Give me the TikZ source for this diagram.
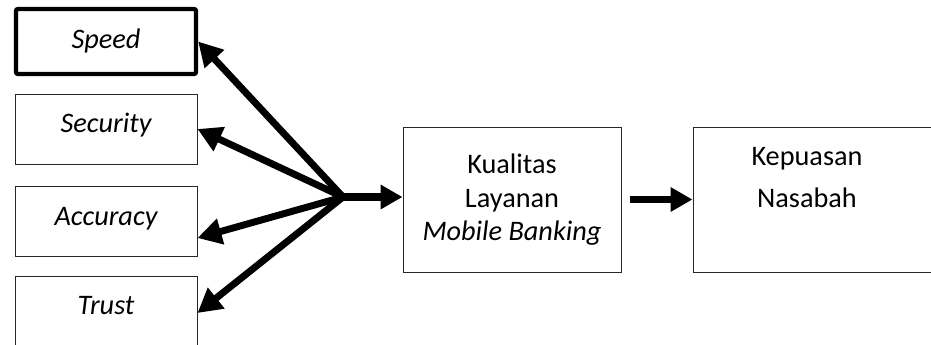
\documentclass[tikz,border=0pt]{standalone}
\usepackage{fontspec}
\setmainfont{Carlito}
\usetikzlibrary{arrows.meta}
\begin{document}
\begin{tikzpicture}[x=0.75pt,y=-0.75pt,
  box/.style={draw=black!85,line width=0.75pt,inner sep=0pt,minimum width=136.5pt,minimum height=52.5pt},
  thickbox/.style={draw=black,line width=3.2pt,rounded corners=1.5pt,inner sep=0pt,minimum width=135pt,minimum height=48.75pt},
  bigbox/.style={draw=black!85,line width=0.75pt,inner sep=0pt,minimum height=108.75pt},
  lbl/.style={anchor=base,inner sep=0pt,font=\fontsize{21.2}{25}\selectfont},
  arr/.style={draw=black,line width=5.2pt,line cap=round,-{Triangle[length=18pt,width=19pt]}},
  arrm/.style={draw=black,line width=5.5pt,-{Triangle[length=16.5pt,width=17.5pt]}}
]
\useasboundingbox (0,0) rectangle (931,344);
\clip (0,0) rectangle (931,344);

\node[thickbox] (speed) at (106,41.5) {};
\node[box] (security) at (106,129) {};
\node[box] (accuracy) at (106,221) {};
\node[box] (trust) at (106,311) {};
\node[bigbox,minimum width=163.5pt] (kualitas) at (512,199.5) {};
\node[bigbox,minimum width=200.25pt] (kepuasan) at (826.5,199.5) {};

\node[lbl] (tspeed) at (106,48) {\itshape Speed};
\node[lbl] (tsecurity) at (106,132) {\itshape Security};
\node[lbl] (taccuracy) at (106,225) {\itshape Accuracy};
\node[lbl] (ttrust) at (106,314) {\itshape Trust};
\node[lbl] (tk1) at (512,173) {Kualitas};
\node[lbl] (tk2) at (512,207) {Layanan};
\node[lbl] (tk3) at (512,240) {\itshape Mobile Banking};
\node[lbl] (tn1) at (807,165) {Kepuasan};
\node[lbl] (tn2) at (807,207) {Nasabah};

\coordinate (hub) at (343,197);
\draw[arr] (hub) -- (speed.east);
\draw[arr] (hub) -- (security.east);
\draw[arr] (hub) -- ([yshift=-12.75pt]accuracy.east);
\draw[arr] (hub) -- ([yshift=-1.5pt]trust.east);
\draw[arrm] (hub) -- (hub -| kualitas.west);
\draw[arrm] ([xshift=6pt]kualitas.east) -- (kepuasan.west);
\end{tikzpicture}
\end{document}
